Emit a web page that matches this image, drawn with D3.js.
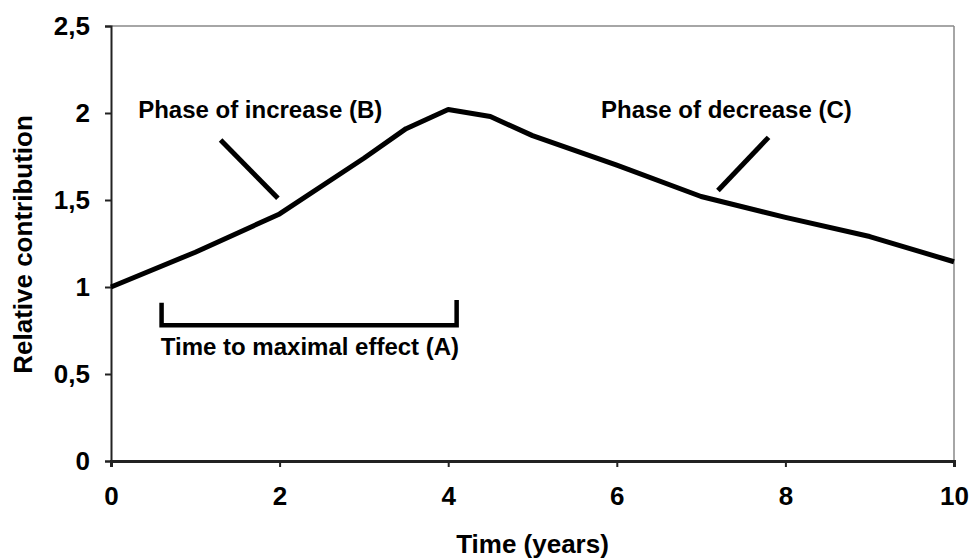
<!DOCTYPE html>
<html><head><meta charset="utf-8">
<script src="https://cdn.jsdelivr.net/npm/d3@7"></script>
<style>body{margin:0;background:#fff;} text{font-family:"Liberation Sans",Arial,sans-serif;font-weight:bold;fill:#000;}</style>
</head><body><svg id="c" width="970" height="559"></svg>
<script>
const timeYears = [0, 1, 2, 3, 3.5, 4, 4.5, 5, 6, 7, 8, 9, 10];
const contribution = [1.0, 1.2, 1.42, 1.74, 1.91, 2.02, 1.98, 1.87, 1.70, 1.52, 1.40, 1.29, 1.145];
const xTicks = [0, 2, 4, 6, 8, 10];
const yTicks = [0, 0.5, 1, 1.5, 2, 2.5];
const yTickLabels = ["0", "0,5", "1", "1,5", "2", "2,5"];
const xTitle = "Time (years)";
const yTitle = "Relative contribution";
// annotations in data units
const labelTexts = ["Phase of increase (B)", "Phase of decrease (C)", "Time to maximal effect (A)"];
const labelPos = [[1.77, 1.971], [7.30, 1.971], [2.36, 0.609]];
const leaderB = [[1.3, 1.845], [1.98, 1.51]];
const leaderC = [[7.8, 1.86], [7.2, 1.555]];
const bracket = [[0.6, 0.91], [0.6, 0.78], [4.1, 0.78], [4.1, 0.925]];

const svg = d3.select("#c");
const x = d3.scaleLinear().domain([0, 10]).range([111, 954]);
const y = d3.scaleLinear().domain([0, 2.5]).range([461, 26]);

// frame top/right
svg.append("line").attr("x1", x(0)).attr("x2", x(10)).attr("y1", y(2.5)).attr("y2", y(2.5)).attr("stroke", "#888").attr("stroke-width", 1.5);
svg.append("line").attr("x1", x(10)).attr("x2", x(10)).attr("y1", y(2.5)).attr("y2", y(0)).attr("stroke", "#888").attr("stroke-width", 1.5);

const xAxis = svg.append("g").attr("transform", `translate(0,${y(0)})`)
  .call(d3.axisBottom(x).tickValues(xTicks).tickSize(6).tickPadding(19.5).tickFormat(d3.format("d")));
xAxis.attr("font-size", null).attr("font-family", null);
xAxis.select(".domain").attr("stroke", "#222").attr("stroke-width", 3);
xAxis.selectAll(".tick line").attr("stroke", "#222").attr("stroke-width", 2);
xAxis.selectAll("text").attr("font-size", 26).attr("fill", "#111");

const yAxis = svg.append("g").attr("transform", `translate(${x(0)},0)`)
  .call(d3.axisLeft(y).tickValues(yTicks).tickSize(6).tickPadding(15).tickFormat((d, i) => yTickLabels[i]));
yAxis.attr("font-size", null).attr("font-family", null);
yAxis.select(".domain").attr("stroke", "#222").attr("stroke-width", 2);
yAxis.selectAll(".tick line").attr("stroke", "#222").attr("stroke-width", 2);
yAxis.selectAll("text").attr("font-size", 26).attr("fill", "#111");

svg.append("text").attr("x", (x(0) + x(10)) / 2).attr("y", 553).attr("text-anchor", "middle").attr("font-size", 26).text(xTitle);
svg.append("text").attr("transform", `translate(32,${y(1.25) + 1}) rotate(-90)`).attr("text-anchor", "middle").attr("font-size", 26).text(yTitle);

const line = d3.line().x(d => x(d[0])).y(d => y(d[1]));
svg.append("path").datum(timeYears.map((t, i) => [t, contribution[i]]))
  .attr("d", line).attr("fill", "none").attr("stroke", "#000").attr("stroke-width", 5).attr("stroke-linejoin", "round");

[leaderB, leaderC].forEach(l => svg.append("path").attr("d", line(l)).attr("fill", "none").attr("stroke", "#000").attr("stroke-width", 5));
svg.append("path").attr("d", line(bracket)).attr("fill", "none").attr("stroke", "#000").attr("stroke-width", 4.5);

labelTexts.forEach((t, i) => svg.append("text").attr("x", x(labelPos[i][0])).attr("y", y(labelPos[i][1]))
  .attr("text-anchor", "middle").attr("font-size", 24).text(t));
</script></body></html>
